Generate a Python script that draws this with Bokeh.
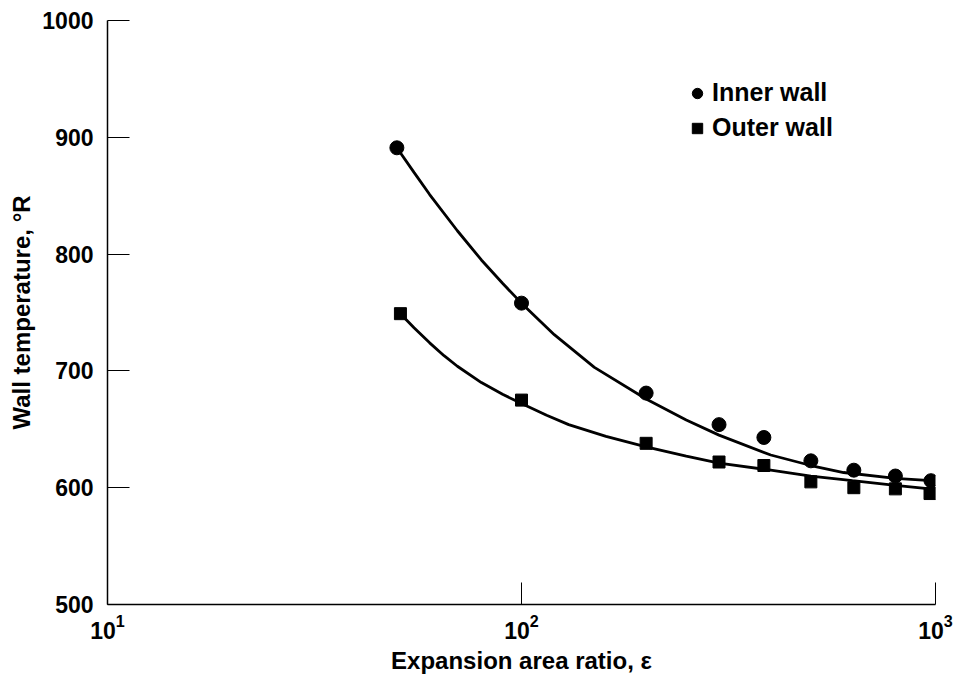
from bokeh.plotting import figure
from bokeh.models import Range1d, Legend, LegendItem, FixedTicker
from bokeh.embed import file_html
from bokeh.resources import INLINE

# Measured points (expansion area ratio, wall temperature in deg R)
inner_eps = [50, 100, 200, 300, 385, 500, 635, 800, 975]
inner_temp = [891, 758, 681, 654, 643, 623, 615, 610, 606]
outer_eps = [51, 100, 200, 300, 385, 500, 635, 800, 970]
outer_temp = [749, 675, 638, 622, 619, 605, 600, 599, 595]

# Fitted curves
inner_curve_eps = [50, 55, 60, 70, 80, 90, 100, 120, 150, 200, 250, 300,
                   400, 500, 600, 800, 975]
inner_curve_temp = [891, 870, 851, 820, 795, 775, 758, 731, 703, 676, 658, 645,
                    628, 619, 613, 608, 606]
outer_curve_eps = [51, 55, 60, 65, 70, 80, 90, 100, 115, 130, 160, 200, 250,
                   300, 400, 500, 630, 800, 970]
outer_curve_temp = [749, 737, 724, 713, 704, 690, 680, 672, 662, 654, 644, 635, 627,
                    621, 615, 610, 606, 602, 599]

x_ticks = [10, 100, 1000]
y_ticks = [500, 600, 700, 800, 900, 1000]

FONT = "Liberation Sans"

p = figure(width=956, height=676, x_axis_type="log",
           x_range=Range1d(10, 1000), y_range=Range1d(500, 1000),
           output_backend="svg", toolbar_location=None,
           min_border_left=107, min_border_right=21,
           min_border_top=20, min_border_bottom=72)
p.outline_line_color = None
p.xgrid.visible = False
p.ygrid.visible = False
p.background_fill_color = "white"

for ax in (p.xaxis[0], p.yaxis[0]):
    ax.axis_line_width = 1.5
    ax.axis_line_color = "black"
    ax.major_tick_in = 22
    ax.major_tick_out = 0
    ax.minor_tick_in = 0
    ax.minor_tick_out = 0
    ax.major_tick_line_color = "black"
    ax.major_tick_line_width = 1
    ax.major_label_text_font = FONT
    ax.major_label_text_font_size = "23px"
    ax.major_label_text_font_style = "bold"
    ax.major_label_text_color = "black"
    ax.axis_label_text_font = FONT
    ax.axis_label_text_font_size = "24px"
    ax.axis_label_text_font_style = "bold"
    ax.axis_label_text_color = "black"

p.xaxis.ticker = FixedTicker(ticks=x_ticks, minor_ticks=[])
p.yaxis.ticker = FixedTicker(ticks=y_ticks, minor_ticks=[])
p.xaxis.axis_label = "Expansion area ratio, ε"
p.yaxis.axis_label = "Wall temperature, °R"
p.xaxis.major_label_standoff = 9
p.yaxis.major_label_standoff = 14
p.xaxis.axis_label_standoff = 5
p.yaxis.axis_label_standoff = 4

p.line(inner_curve_eps, inner_curve_temp, line_color="black", line_width=2.8)
p.line(outer_curve_eps, outer_curve_temp, line_color="black", line_width=2.8)
r_in = p.scatter(inner_eps, inner_temp, marker="circle", size=14,
                 fill_color="black", line_color="black")
r_out = p.scatter(outer_eps, outer_temp, marker="square", size=12,
                  fill_color="black", line_color="black")

legend = Legend(items=[LegendItem(label="Inner wall", renderers=[r_in]),
                       LegendItem(label="Outer wall", renderers=[r_out])],
                location=(577, 462))
legend.border_line_color = None
legend.background_fill_alpha = 0
legend.padding = 0
legend.margin = 0
legend.spacing = 6
legend.glyph_width = 26
legend.glyph_height = 28
legend.label_height = 28
legend.label_standoff = 2
legend.label_text_font = FONT
legend.label_text_font_size = "25px"
legend.label_text_font_style = "bold"
legend.label_text_color = "black"
p.add_layout(legend, "center")

open("out.html", "w").write(file_html(p, INLINE))
